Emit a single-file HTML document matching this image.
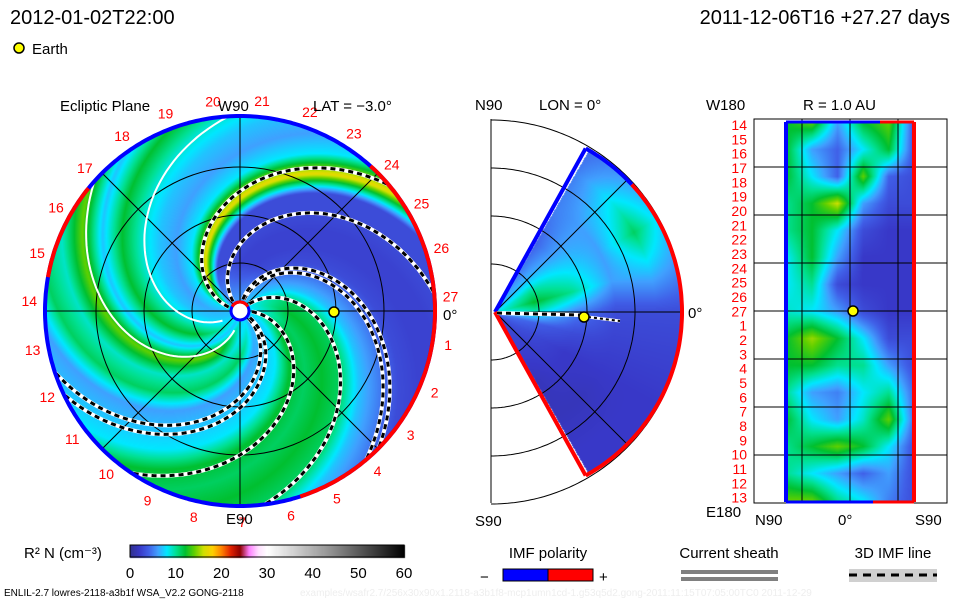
<!DOCTYPE html>
<html><head><meta charset="utf-8">
<style>
html,body{margin:0;padding:0;background:#fff;}
#root{position:relative;width:960px;height:600px;overflow:hidden;background:#fff;font-family:"Liberation Sans",sans-serif;}
canvas{position:absolute;left:0;top:0;}
svg{position:absolute;left:0;top:0;}
text{font-family:"Liberation Sans",sans-serif;}
</style></head>
<body>
<div id="root">
<canvas id="cv" width="960" height="600"></canvas>
<svg id="sv" width="960" height="600"></svg>
</div>
<script>
// ---- data ----
const colorStopsVal = [0,2,4,6,8,10,12,14,16,18,20,22,24,26,28,30,45,60];
const colorStopsHex = ["#303090","#3838c8","#4060e8","#40a0ff","#00e8ff","#00e090","#00c030","#60d000","#d0e000","#ffd000","#ff8000","#e02000","#900000","#ff80ff","#ffe0ff","#ffffff","#888888","#000000"];
// ecliptic density vs spiral source longitude (deg, every 15)
const eclipticProfile = [12,11,12,11,7,5,3,2.5,2.5,3,3,17,8,6,7,9,12,7,14,9,11,6,7,8];
const dashedSpirals = [169,134,46,79,84,327,334,5];
const whiteSpirals = [267,222];
// meridional grid: rows lat 60..-60 step 15, cols r 0,40,80,120,160,190
const meridGrid = [
[7,5,4,5,5,4],[7,7,6,6,8,5],[8,10,8,6,11,6],[8,12,10,6,7,5],[7,9,5,3,3,3],
[5,4,3,2.5,2.5,2.5],[4,3,2,2,2,2],[3,2.5,2,1.5,2,2],[3,2.5,1.5,1.5,2,2]];
// 1AU map: rows from lon label 14 down to 13, cols lat 60..-60
const auGrid = [
[12,14,6,12,14,3],[12,6,4,8,12,3],[12,8,4,14,4,3],[10,12,16,6,3,3],[10,12,8,3,2,2],
[8,12,6,2,2,2],[8,10,3,2,2,2],[9,8,6,3,2,2],[12,15,12,8,3,3],[12,12,10,10,6,3],
[10,6,5,8,10,4],[12,8,6,9,14,4],[10,12,14,12,8,3],[10,8,6,4,6,3],[14,14,10,8,5,3]];
const auLabels = [14,15,16,17,18,19,20,21,22,23,24,25,26,27,1,2,3,4,5,6,7,8,9,10,11,12,13];
const cbTicks = [0,10,20,30,40,50,60];

// ---- color ----
function hx(h){return [parseInt(h.substr(1,2),16),parseInt(h.substr(3,2),16),parseInt(h.substr(5,2),16)];}
const stops = colorStopsHex.map(hx);
function cmap(v){
  if(v<=0) return stops[0];
  for(let i=1;i<colorStopsVal.length;i++){
    if(v<=colorStopsVal[i]){const t=(v-colorStopsVal[i-1])/(colorStopsVal[i]-colorStopsVal[i-1]);
      const a=stops[i-1],b=stops[i];return [a[0]+(b[0]-a[0])*t,a[1]+(b[1]-a[1])*t,a[2]+(b[2]-a[2])*t];}
  }
  return stops[stops.length-1];
}
function bil(g,fr,fc){
  const R=g.length-1,C=g[0].length-1;
  fr=Math.max(0,Math.min(R,fr));fc=Math.max(0,Math.min(C,fc));
  const r0=Math.min(Math.floor(fr),R-1),c0=Math.min(Math.floor(fc),C-1);
  const tr=fr-r0,tc=fc-c0;
  return g[r0][c0]*(1-tr)*(1-tc)+g[r0+1][c0]*tr*(1-tc)+g[r0][c0+1]*(1-tr)*tc+g[r0+1][c0+1]*tr*tc;
}
const cv=document.getElementById('cv');const ctx=cv.getContext('2d');
const img=ctx.createImageData(960,600);const D=img.data;
function put(x,y,c){const i=(y*960+x)*4;D[i]=c[0];D[i+1]=c[1];D[i+2]=c[2];D[i+3]=255;}
const CX=240,CY=311,RD=195,K=0.66;
function profAt(psi){psi=((psi%360)+360)%360;const f=psi/15;const i=Math.floor(f)%24,j=(i+1)%24,t=f-Math.floor(f);return eclipticProfile[i]*(1-t)+eclipticProfile[j]*t;}
for(let y=CY-RD;y<=CY+RD;y++)for(let x=CX-RD;x<=CX+RD;x++){
  const dx=x-CX,dy=CY-y,r=Math.hypot(dx,dy);if(r>RD)continue;
  const th=Math.atan2(dy,dx)*180/Math.PI;
  let v=profAt(th+K*r);
  if(r<50){const w=r/50;v=v*w+7*(1-w);}
  put(x,y,cmap(v));
}
// meridional
const MX=495,MY=312,MR=187;
for(let y=MY-MR;y<=MY+MR;y++)for(let x=MX;x<=MX+MR;x++){
  const dx=x-MX,dy=MY-y,r=Math.hypot(dx,dy);if(r>MR)continue;
  const lat=Math.atan2(dy,dx)*180/Math.PI;if(Math.abs(lat)>60)continue;
  put(x,y,cmap(bil(meridGrid,(60-lat)/15,r/40)));
}
// 1AU map
const AX0=786,AX1=914,AY0=122,AY1=500;
for(let y=AY0;y<=AY1;y++)for(let x=AX0;x<=AX1;x++){
  put(x,y,cmap(bil(auGrid,(y-AY0)/(AY1-AY0)*(auGrid.length-1),(x-AX0)/(AX1-AX0)*5)));
}
// colorbar
const CB0=130,CB1=404;
for(let y=545;y<=557;y++)for(let x=CB0;x<=CB1;x++)put(x,y,cmap((x-CB0)/(CB1-CB0)*60));
for(let i=0;i<D.length;i+=4){if(D[i+3]===0){D[i]=255;D[i+1]=255;D[i+2]=255;D[i+3]=255;}}
ctx.putImageData(img,0,0);

// ---- svg overlay ----
const NS="http://www.w3.org/2000/svg";const sv=document.getElementById('sv');
function el(tag,attrs,parent){const e=document.createElementNS(NS,tag);for(const k in attrs)e.setAttribute(k,attrs[k]);(parent||sv).appendChild(e);return e;}
function txt(x,y,s,size,fill,anchor,name){const t=el('text',{x:x,y:y,'font-size':size,fill:fill||'#000','text-anchor':anchor||'start'});t.textContent=s;

return t;}
function spiralPts(psi,r0){let p=[];for(let r=r0;r<=RD;r+=3){const th=(psi-K*r)*Math.PI/180;p.push((CX+r*Math.cos(th)).toFixed(1)+','+(CY-r*Math.sin(th)).toFixed(1));}return p.join(' ');}

// ecliptic grid
const g1=el('g',{});


[48,96,144].forEach(r=>el('circle',{cx:CX,cy:CY,r:r,fill:'none',stroke:'#000','stroke-width':1},g1));
el('line',{x1:CX-RD,y1:CY,x2:CX+RD,y2:CY,stroke:'#000'},g1);
el('line',{x1:CX,y1:CY-RD,x2:CX,y2:CY+RD,stroke:'#000'},g1);
const d45=RD*0.7071;
el('line',{x1:CX-d45,y1:CY-d45,x2:CX+d45,y2:CY+d45,stroke:'#000'},g1);
el('line',{x1:CX-d45,y1:CY+d45,x2:CX+d45,y2:CY-d45,stroke:'#000'},g1);
// white spirals
whiteSpirals.forEach(p=>{const l=el('polyline',{points:spiralPts(p,20),fill:'none',stroke:'#fff','stroke-width':2});

});
dashedSpirals.forEach(p=>{
  el('polyline',{points:spiralPts(p,12),fill:'none',stroke:'#fff','stroke-width':4});
  const l=el('polyline',{points:spiralPts(p,12),fill:'none',stroke:'#000','stroke-width':3,'stroke-dasharray':'5,4'});
  
  
});
// disk border
function arc(cx,cy,r,a0,a1,col,w){const p=[];for(let a=a0;a<=a1;a+=1){const t=a*Math.PI/180;p.push((cx+r*Math.cos(t)).toFixed(1)+','+(cy-r*Math.sin(t)).toFixed(1));}return el('polyline',{points:p.join(' '),fill:'none',stroke:col,'stroke-width':w});}
arc(CX,CY,RD,-360,360,'#0000ff',4);
arc(CX,CY,RD,-72,48,'#ff0000',4);
arc(CX,CY,RD,141,170,'#ff0000',4);
// sun
el('circle',{cx:CX,cy:CY,r:9,fill:'#fff',stroke:'#0000ff','stroke-width':3});
arc(CX,CY,9,30,150,'#ff0000',3);
// numbers
for(let i=1;i<=27;i++){const a=(4-(i%27)*360/27)*Math.PI/180;const r=RD+16;
  txt(CX+r*Math.cos(a),CY-r*Math.sin(a)+5,String(i),14,'#ff0000','middle','longitude-label');}
// earth
const e1=el('circle',{cx:334,cy:312,r:5,fill:'#ffff00',stroke:'#000','stroke-width':1.5});


txt(60,111,'Ecliptic Plane',15,'#000','start','ecliptic-title');
txt(218,111,'W90',15,'#000','start','w90-label');
txt(313,111,'LAT = \u22123.0\u00b0',15,'#000','start','lat-label');
txt(226,524,'E90',15,'#000','start','e90-label');
txt(443,320,'0\u00b0',15,'#000','start','zero-label');

// meridional panel
const g2=el('g',{});


el('line',{x1:491,y1:119,x2:491,y2:503,stroke:'#000'},g2);
[48,96,144,192].forEach(r=>arc(491,312,r,-90,90,'#000',1));
el('line',{x1:MX,y1:MY,x2:MX+MR,y2:MY,stroke:'#000'},g2);
el('line',{x1:MX,y1:MY,x2:MX+MR*0.7071,y2:MY-MR*0.7071,stroke:'#000'},g2);
el('line',{x1:MX,y1:MY,x2:MX+MR*0.7071,y2:MY+MR*0.7071,stroke:'#000'},g2);
function rad(a,r0,r1,c){const t=a*Math.PI/180;return el('line',{x1:MX+r0*Math.cos(t),y1:MY-r0*Math.sin(t),x2:MX+r1*Math.cos(t),y2:MY-r1*Math.sin(t),stroke:c,'stroke-width':4});}
rad(61,0,MR,'#0000ff');rad(-61,0,MR,'#ff0000');
arc(MX,MY,MR,43,61,'#0000ff',4);arc(MX,MY,MR,-61,43,'#ff0000',4);
el('line',{x1:497,y1:313,x2:580,y2:315,stroke:'#fff','stroke-width':4});
el('line',{x1:497,y1:313,x2:580,y2:315,stroke:'#000','stroke-width':3,'stroke-dasharray':'5,4'});
el('line',{x1:588,y1:317,x2:620,y2:321,stroke:'#fff','stroke-width':3});
el('line',{x1:588,y1:317,x2:620,y2:321,stroke:'#000','stroke-width':2,'stroke-dasharray':'3,3'});
const e2=el('circle',{cx:584,cy:317,r:5,fill:'#ffff00',stroke:'#000','stroke-width':1.5});


txt(475,110,'N90',15,'#000','start','n90-label');
txt(539,110,'LON = 0\u00b0',15,'#000','start','lon-label');
txt(475,526,'S90',15,'#000','start','s90-label');
txt(688,318,'0\u00b0',15,'#000','start','zero-label-merid');

// 1AU panel
const g3=el('g',{});


el('rect',{x:754,y:119,width:193,height:384,fill:'none',stroke:'#000'},g3);
[167,215,263,311,359,407,455].forEach(y=>el('line',{x1:754,y1:y,x2:947,y2:y,stroke:'#000'},g3));
[802,850,898].forEach(x=>el('line',{x1:x,y1:119,x2:x,y2:503,stroke:'#000'},g3));
el('line',{x1:786,y1:122,x2:786,y2:502,stroke:'#0000ff','stroke-width':4});
el('line',{x1:914,y1:122,x2:914,y2:502,stroke:'#ff0000','stroke-width':4});
el('line',{x1:786,y1:122,x2:880,y2:122,stroke:'#0000ff','stroke-width':3});
el('line',{x1:880,y1:122,x2:914,y2:122,stroke:'#ff0000','stroke-width':3});
el('line',{x1:786,y1:502,x2:873,y2:502,stroke:'#0000ff','stroke-width':3});
el('line',{x1:873,y1:502,x2:914,y2:502,stroke:'#ff0000','stroke-width':3});
auLabels.forEach((l,i)=>txt(747,130+i*14.33,String(l),14,'#ff0000','end','au-lon-label'));
const e3=el('circle',{cx:853,cy:311,r:5,fill:'#ffff00',stroke:'#000','stroke-width':1.5});


txt(803,110,'R = 1.0 AU',15,'#000','start','au-title');
txt(706,110,'W180',15,'#000','start','w180-label');
txt(706,517,'E180',15,'#000','start','e180-label');
txt(755,525,'N90',15,'#000','start','n90-au');
txt(838,525,'0\u00b0',15,'#000','start','zero-au');
txt(915,525,'S90',15,'#000','start','s90-au');

// header
txt(10,24,'2012-01-02T22:00',20,'#000','start','date-title');
txt(950,24,'2011-12-06T16 +27.27 days',20,'#000','end','run-title');
const e4=el('circle',{cx:19,cy:48,r:5,fill:'#ffff00',stroke:'#000','stroke-width':1.5});


txt(32,54,'Earth',15,'#000','start','earth-legend-label');

// colorbar
el('rect',{x:CB0,y:545,width:CB1-CB0,height:12,fill:'none',stroke:'#000'});
txt(24,558,'R\u00b2 N (cm\u207b\u00b3)',15,'#000','start','colorbar-title');
cbTicks.forEach(v=>{const x=CB0+v/60*(CB1-CB0);txt(x,578,String(v),15,'#000','middle','colorbar-tick');});
// legends
txt(548,558,'IMF polarity',15,'#000','middle','imf-polarity-title');
txt(480,582,'\u2212',15,'#000','start','minus');
el('rect',{x:503,y:569,width:45,height:12,fill:'#0000ff',stroke:'#000'});
el('rect',{x:548,y:569,width:45,height:12,fill:'#ff0000',stroke:'#000'});
txt(599,582,'+',15,'#000','start','plus');
txt(729,558,'Current sheath',15,'#000','middle','current-sheath-title');
el('rect',{x:681,y:570,width:97,height:4,fill:'#808080'});
el('rect',{x:681,y:577,width:97,height:4,fill:'#808080'});
txt(893,558,'3D IMF line',15,'#000','middle','imf-line-title');
el('rect',{x:849,y:569,width:88,height:13,fill:'#d0d0d0'});
el('line',{x1:849,y1:575,x2:937,y2:575,stroke:'#000','stroke-width':3,'stroke-dasharray':'8,6'});
txt(4,596,'ENLIL-2.7 lowres-2118-a3b1f WSA_V2.2 GONG-2118',10,'#000','start','footer-run');
txt(300,596,'examples/wsafr2.7/256x30x90x1.2118-a3b1f8-mcp1umn1cd-1.g53q5d2.gong-2011:11:15T07:05:00TC0    2011-12-29',10,'#eeeeee','start','footer-path');
</script>
</body></html>
